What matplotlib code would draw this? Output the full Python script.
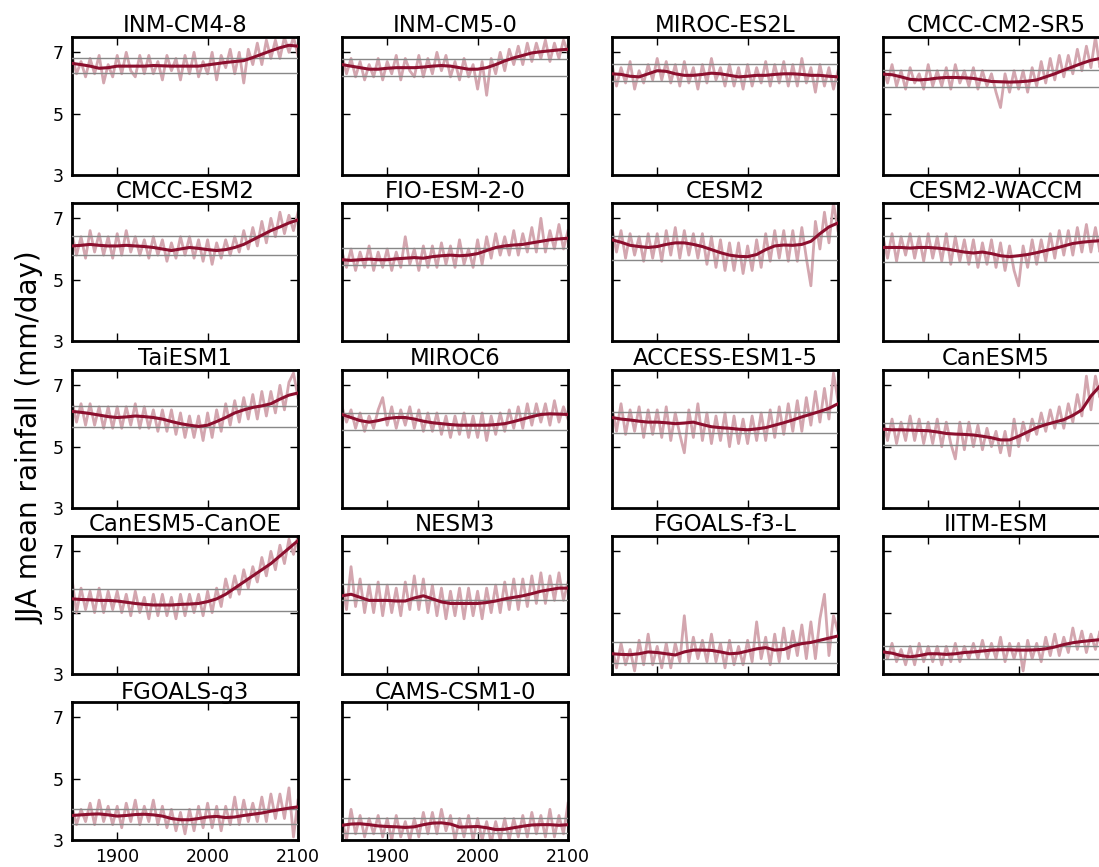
import numpy as np
import matplotlib
matplotlib.use("Agg")
import matplotlib.pyplot as plt

plt.rcParams['font.family'] = ['DejaVu Sans']

# ---------------- data ----------------
models = ["INM-CM4-8", "INM-CM5-0", "MIROC-ES2L", "CMCC-CM2-SR5",
          "CMCC-ESM2", "FIO-ESM-2-0", "CESM2", "CESM2-WACCM",
          "TaiESM1", "MIROC6", "ACCESS-ESM1-5", "CanESM5",
          "CanESM5-CanOE", "NESM3", "FGOALS-f3-L", "IITM-ESM",
          "FGOALS-g3", "CAMS-CSM1-0"]

raw_years = list(range(1850, 2101, 5))      # annual series sampled every 5 years
smooth_years = list(range(1850, 2101, 10))  # smoothed series every 10 years

ref_upper = [6.83, 6.78, 6.62, 6.42, 6.42, 6.03, 6.42, 6.42, 6.33, 6.10, 6.14, 5.78,
             5.78, 5.95, 4.05, 3.92, 4.02, 3.73]
ref_lower = [6.31, 6.22, 6.08, 5.87, 5.80, 5.48, 5.64, 5.57, 5.64, 5.53, 5.45, 5.06,
             5.05, 5.42, 3.37, 3.50, 3.51, 3.24]

raw_inm_cm4_8 = [6.9, 6.3, 6.7, 6.2, 6.8, 6.3, 6.9, 6.0, 6.6, 6.2,
                 6.9, 6.3, 7.0, 6.4, 6.2, 6.9, 6.3, 6.9, 6.3, 6.7,
                 6.1, 6.9, 6.4, 6.8, 6.1, 6.9, 6.3, 7.0, 6.2, 6.7,
                 6.3, 7.0, 6.1, 6.9, 6.5, 7.1, 6.3, 7.0, 6.0, 7.1,
                 6.6, 7.3, 6.6, 7.4, 6.8, 7.4, 6.8, 7.5, 7.0, 7.5, 6.9]
smooth_inm_cm4_8 = [6.64, 6.60, 6.55, 6.48, 6.50, 6.55, 6.55, 6.55, 6.55, 6.57, 6.56, 6.55, 6.55,
                    6.55, 6.55, 6.59, 6.63, 6.67, 6.70, 6.73, 6.83, 6.94, 7.05, 7.15, 7.23, 7.20]

raw_inm_cm5_0 = [6.9, 6.3, 6.8, 6.2, 6.7, 6.1, 6.6, 6.2, 6.8, 6.1,
                 6.7, 6.3, 6.9, 6.1, 6.8, 6.4, 6.2, 6.9, 6.2, 6.8,
                 6.3, 7.0, 6.4, 6.9, 6.2, 6.7, 6.1, 6.8, 6.2, 6.6,
                 5.8, 6.7, 5.6, 6.8, 6.3, 7.0, 6.4, 7.1, 6.6, 7.2,
                 6.6, 7.3, 6.7, 7.3, 6.8, 7.4, 6.7, 7.3, 6.8, 7.4, 7.0]
smooth_inm_cm5_0 = [6.60, 6.55, 6.50, 6.45, 6.45, 6.48, 6.50, 6.50, 6.50, 6.52, 6.55, 6.57, 6.55,
                    6.50, 6.45, 6.45, 6.50, 6.60, 6.72, 6.82, 6.90, 6.98, 7.02, 7.05, 7.08, 7.10]

raw_miroc_es2l = [6.6, 5.9, 6.5, 6.0, 6.7, 5.8, 6.4, 6.0, 6.6, 6.1,
                  6.8, 6.1, 6.7, 6.0, 6.6, 5.9, 6.7, 6.0, 6.5, 5.8,
                  6.6, 6.0, 6.8, 6.1, 6.5, 5.9, 6.6, 5.9, 6.5, 5.8,
                  6.6, 5.9, 6.5, 6.0, 6.7, 5.9, 6.6, 6.0, 6.7, 5.9,
                  6.6, 5.9, 6.8, 6.0, 6.5, 5.7, 6.6, 5.9, 6.5, 5.8, 6.4]
smooth_miroc_es2l = [6.30, 6.28, 6.22, 6.20, 6.30, 6.40, 6.38, 6.30, 6.25, 6.25, 6.28, 6.32, 6.30,
                     6.25, 6.20, 6.22, 6.25, 6.25, 6.28, 6.30, 6.30, 6.28, 6.25, 6.25, 6.22, 6.20]

raw_cmcc_cm2_sr5 = [6.5, 6.0, 6.6, 5.9, 6.4, 5.8, 6.5, 6.0, 6.3, 5.8,
                    6.6, 5.9, 6.4, 5.9, 6.5, 5.8, 6.6, 6.0, 6.4, 5.9,
                    6.5, 5.8, 6.4, 5.9, 6.3, 5.7, 5.2, 6.3, 5.7, 6.4,
                    5.8, 6.4, 5.7, 6.5, 5.9, 6.7, 6.0, 6.8, 6.1, 6.9,
                    6.2, 6.9, 6.3, 7.1, 6.4, 7.2, 6.5, 7.5, 6.5, 7.3, 6.7]
smooth_cmcc_cm2_sr5 = [6.29, 6.27, 6.20, 6.12, 6.10, 6.12, 6.16, 6.18, 6.18, 6.17, 6.15, 6.10, 6.05,
                       6.04, 6.03, 6.04, 6.06, 6.10, 6.20, 6.30, 6.42, 6.53, 6.64, 6.74, 6.80, 6.85]

raw_cmcc_esm2 = [6.5, 5.8, 6.4, 5.7, 6.6, 5.9, 6.5, 5.8, 6.4, 5.7,
                 6.5, 5.8, 6.6, 5.9, 6.4, 5.8, 6.3, 5.7, 6.4, 5.8,
                 6.3, 5.6, 6.2, 5.7, 6.4, 5.8, 6.4, 5.7, 6.3, 5.6,
                 6.3, 5.5, 6.2, 5.7, 6.3, 5.8, 6.4, 5.9, 6.6, 6.0,
                 6.7, 6.1, 6.9, 6.2, 7.0, 6.4, 7.2, 6.5, 7.1, 6.6, 7.2]
smooth_cmcc_esm2 = [6.10, 6.12, 6.15, 6.12, 6.10, 6.10, 6.12, 6.10, 6.08, 6.05, 6.00, 5.95, 6.00,
                    6.05, 6.02, 5.98, 5.95, 5.98, 6.05, 6.15, 6.30, 6.45, 6.60, 6.72, 6.85, 6.95]

raw_fio_esm_2_0 = [5.9, 5.4, 6.0, 5.3, 5.9, 5.4, 6.1, 5.3, 5.9, 5.4,
                   6.0, 5.3, 5.9, 5.4, 6.4, 5.5, 6.0, 5.3, 6.1, 5.4,
                   6.1, 5.4, 6.2, 5.5, 6.1, 5.4, 6.3, 5.5, 6.0, 5.4,
                   6.3, 5.5, 6.4, 5.7, 6.5, 5.8, 6.4, 5.8, 6.6, 5.8,
                   6.5, 5.9, 6.7, 5.9, 7.0, 5.9, 6.6, 6.0, 6.8, 6.0, 6.6]
smooth_fio_esm_2_0 = [5.65, 5.63, 5.65, 5.67, 5.65, 5.65, 5.68, 5.70, 5.72, 5.70, 5.75, 5.78, 5.80,
                      5.78, 5.80, 5.85, 5.95, 6.05, 6.10, 6.13, 6.15, 6.20, 6.25, 6.30, 6.33, 6.35]

raw_cesm2 = [6.7, 5.9, 6.6, 5.7, 6.5, 5.8, 6.4, 5.6, 6.5, 5.7,
             6.5, 5.6, 6.6, 5.8, 6.7, 5.7, 6.6, 5.8, 6.5, 5.7,
             6.5, 5.5, 6.4, 5.4, 6.3, 5.3, 6.2, 5.3, 6.2, 5.2,
             6.1, 5.3, 6.3, 5.4, 6.5, 5.6, 6.6, 5.7, 6.6, 5.6,
             6.6, 5.6, 6.7, 5.7, 4.8, 6.9, 6.0, 7.2, 6.2, 7.5, 6.6]
smooth_cesm2 = [6.30, 6.22, 6.12, 6.08, 6.05, 6.08, 6.15, 6.20, 6.20, 6.15, 6.08, 5.98, 5.88,
                5.80, 5.76, 5.75, 5.82, 5.98, 6.10, 6.13, 6.12, 6.15, 6.25, 6.50, 6.72, 6.85]

raw_cesm2_waccm = [6.4, 5.7, 6.5, 5.6, 6.4, 5.8, 6.5, 5.7, 6.4, 5.6,
                   6.5, 5.7, 6.4, 5.6, 6.5, 5.5, 6.4, 5.6, 6.3, 5.5,
                   6.3, 5.4, 6.2, 5.5, 6.3, 5.4, 6.2, 5.3, 6.1, 5.3,
                   4.8, 6.1, 5.4, 6.3, 5.5, 6.3, 5.6, 6.5, 5.7, 6.6,
                   5.8, 6.6, 5.8, 6.7, 5.9, 6.8, 5.9, 6.7, 5.9, 6.8, 6.2]
smooth_cesm2_waccm = [6.05, 6.05, 6.05, 6.03, 6.05, 6.05, 6.03, 6.00, 5.95, 5.90, 5.87, 5.90, 5.85,
                      5.78, 5.75, 5.78, 5.82, 5.88, 5.95, 6.02, 6.10, 6.18, 6.22, 6.25, 6.27, 6.27]

raw_taiesm1 = [6.5, 5.8, 6.4, 5.7, 6.4, 5.7, 6.3, 5.6, 6.3, 5.6,
               6.3, 5.6, 6.3, 5.7, 6.4, 5.6, 6.3, 5.6, 6.2, 5.5,
               6.2, 5.5, 6.2, 5.4, 6.1, 5.3, 6.0, 5.3, 6.0, 5.2,
               6.1, 5.3, 6.2, 5.5, 6.4, 5.7, 6.5, 5.8, 6.6, 5.9,
               6.7, 5.9, 6.8, 6.0, 6.8, 6.1, 7.0, 6.2, 7.1, 7.4, 6.6]
smooth_taiesm1 = [6.15, 6.12, 6.08, 6.03, 5.98, 5.95, 5.97, 6.00, 5.98, 5.95, 5.90, 5.82, 5.75,
                  5.70, 5.66, 5.70, 5.82, 5.95, 6.10, 6.20, 6.28, 6.33, 6.40, 6.55, 6.68, 6.75]

raw_miroc6 = [6.3, 5.8, 6.2, 5.6, 6.1, 5.5, 6.0, 5.6, 6.2, 6.6,
              5.7, 6.3, 5.6, 6.2, 5.7, 6.3, 5.6, 6.2, 5.5, 6.1,
              5.5, 6.1, 5.4, 6.0, 5.3, 6.0, 5.4, 6.1, 5.3, 6.0,
              5.3, 6.1, 5.2, 6.0, 5.4, 6.1, 5.5, 6.2, 5.6, 6.3,
              5.6, 6.4, 5.7, 6.4, 5.8, 6.4, 5.7, 6.5, 5.8, 6.3, 5.9]
smooth_miroc6 = [6.05, 5.95, 5.85, 5.80, 5.85, 5.92, 5.95, 5.95, 5.90, 5.83, 5.78, 5.75, 5.72,
                 5.70, 5.70, 5.70, 5.70, 5.72, 5.75, 5.82, 5.90, 5.98, 6.05, 6.07, 6.06, 6.05]

raw_access_esm1_5 = [6.3, 5.5, 6.4, 5.4, 6.2, 5.5, 6.3, 5.3, 6.2, 5.4,
                     6.2, 5.3, 6.3, 5.2, 6.1, 5.4, 4.8, 6.2, 5.3, 6.4,
                     5.2, 6.1, 5.1, 6.0, 5.2, 6.1, 5.0, 6.0, 5.1, 5.9,
                     5.1, 6.0, 5.2, 6.1, 5.2, 6.2, 5.3, 6.3, 5.4, 6.4,
                     5.5, 6.5, 5.5, 6.6, 5.7, 6.8, 5.8, 6.9, 5.9, 7.4, 6.5]
smooth_access_esm1_5 = [5.95, 5.90, 5.87, 5.83, 5.80, 5.80, 5.78, 5.75, 5.77, 5.80, 5.72, 5.65, 5.62,
                        5.60, 5.57, 5.55, 5.58, 5.62, 5.70, 5.78, 5.87, 5.97, 6.06, 6.15, 6.25, 6.40]

raw_canesm5 = [5.9, 5.2, 5.9, 5.1, 5.8, 5.2, 6.0, 5.2, 5.9, 5.1,
               5.8, 5.1, 5.9, 5.0, 5.8, 5.1, 4.6, 5.8, 4.9, 5.8,
               5.0, 5.7, 4.9, 5.6, 5.0, 5.5, 4.8, 5.5, 4.7, 5.9,
               5.0, 5.8, 5.2, 5.9, 5.4, 6.1, 5.5, 6.2, 5.6, 6.3,
               5.6, 6.4, 5.8, 6.7, 6.0, 7.3, 6.2, 7.3, 6.6, 7.3, 7.0]
smooth_canesm5 = [5.57, 5.55, 5.55, 5.54, 5.53, 5.52, 5.48, 5.43, 5.41, 5.40, 5.38, 5.34, 5.29,
                  5.22, 5.22, 5.34, 5.48, 5.62, 5.72, 5.80, 5.88, 6.02, 6.20, 6.65, 6.98, 7.20]

raw_canesm5_canoe = [6.1, 5.0, 5.8, 5.1, 5.7, 5.0, 5.8, 5.0, 5.7, 5.1,
                     5.7, 5.0, 5.6, 4.9, 5.7, 5.0, 5.5, 4.8, 5.6, 4.9,
                     5.6, 4.9, 5.5, 4.8, 5.6, 4.9, 5.6, 5.0, 5.6, 4.9,
                     5.7, 5.0, 5.8, 5.2, 6.1, 5.5, 6.2, 5.6, 6.4, 5.8,
                     6.5, 6.0, 6.8, 6.2, 7.0, 6.4, 7.2, 6.6, 7.4, 6.9, 7.5]
smooth_canesm5_canoe = [5.45, 5.43, 5.42, 5.40, 5.40, 5.38, 5.34, 5.30, 5.27, 5.25, 5.25, 5.25, 5.27,
                        5.28, 5.30, 5.36, 5.45, 5.60, 5.80, 6.00, 6.20, 6.40, 6.60, 6.85, 7.10, 7.35]

raw_nesm3 = [6.0, 5.1, 6.5, 5.2, 6.1, 5.0, 5.9, 5.0, 6.0, 4.9,
             5.9, 5.0, 5.8, 4.9, 6.0, 5.1, 6.2, 5.1, 6.1, 5.0,
             5.9, 4.9, 5.8, 4.8, 5.7, 4.9, 5.8, 4.8, 5.8, 4.9,
             5.7, 4.8, 5.8, 5.0, 5.9, 5.0, 6.0, 5.1, 6.1, 5.1,
             6.1, 5.2, 6.2, 5.3, 6.3, 5.3, 6.2, 5.4, 6.3, 5.4, 6.0]
smooth_nesm3 = [5.55, 5.60, 5.50, 5.40, 5.40, 5.40, 5.38, 5.38, 5.48, 5.55, 5.45, 5.35, 5.30,
                5.30, 5.30, 5.30, 5.33, 5.38, 5.45, 5.50, 5.55, 5.62, 5.70, 5.75, 5.80, 5.80]

raw_fgoals_f3_l = [3.9, 3.2, 4.0, 3.3, 3.8, 3.1, 4.1, 3.3, 4.3, 3.3,
                   3.9, 3.2, 4.0, 3.2, 4.0, 3.4, 4.9, 3.4, 4.2, 3.5,
                   4.1, 3.4, 4.3, 3.4, 4.0, 3.2, 4.1, 3.3, 3.9, 3.3,
                   4.1, 3.4, 4.7, 3.5, 4.2, 3.3, 4.3, 3.4, 4.5, 3.5,
                   4.4, 3.6, 4.6, 3.5, 4.7, 3.5, 4.8, 5.6, 3.6, 4.9, 4.4]
smooth_fgoals_f3_l = [3.66, 3.64, 3.63, 3.66, 3.72, 3.70, 3.66, 3.62, 3.72, 3.78, 3.78, 3.77, 3.72,
                      3.66, 3.68, 3.75, 3.82, 3.86, 3.78, 3.80, 3.92, 3.99, 4.03, 4.10, 4.17, 4.24]

raw_iitm_esm = [3.9, 3.5, 4.0, 3.4, 3.8, 3.3, 3.9, 3.3, 4.0, 3.4,
                3.9, 3.4, 3.9, 3.3, 3.9, 3.4, 4.0, 3.4, 3.9, 3.5,
                4.0, 3.5, 4.1, 3.5, 4.0, 3.5, 4.2, 3.4, 4.0, 3.5,
                4.0, 3.1, 4.1, 3.5, 4.0, 3.4, 4.2, 3.6, 4.3, 3.6,
                4.2, 3.7, 4.5, 3.8, 4.4, 3.7, 4.3, 3.8, 4.4, 3.9, 4.3]
smooth_iitm_esm = [3.72, 3.68, 3.60, 3.56, 3.60, 3.66, 3.66, 3.64, 3.66, 3.70, 3.72, 3.75, 3.78,
                   3.79, 3.79, 3.78, 3.78, 3.79, 3.82, 3.88, 3.96, 4.02, 4.06, 4.09, 4.12, 4.15]

raw_fgoals_g3 = [4.1, 3.5, 4.0, 3.6, 4.2, 3.5, 4.3, 3.6, 4.1, 3.5,
                 4.1, 3.4, 4.2, 3.6, 4.3, 3.5, 4.1, 3.6, 4.3, 3.5,
                 4.1, 3.4, 4.0, 3.3, 3.9, 3.2, 4.0, 3.3, 4.1, 3.4,
                 4.2, 3.4, 4.1, 3.3, 4.1, 3.5, 4.4, 3.5, 4.3, 3.6,
                 4.2, 3.6, 4.4, 3.6, 4.5, 3.7, 4.5, 3.7, 4.7, 3.1, 4.3]
smooth_fgoals_g3 = [3.80, 3.82, 3.84, 3.85, 3.82, 3.78, 3.80, 3.83, 3.84, 3.82, 3.78, 3.70, 3.66,
                    3.66, 3.70, 3.75, 3.77, 3.73, 3.75, 3.80, 3.84, 3.88, 3.94, 3.99, 4.04, 4.08]

raw_cams_csm1_0 = [3.7, 3.0, 4.0, 3.2, 3.8, 3.1, 3.7, 3.2, 3.8, 3.1,
                   3.7, 3.0, 3.8, 3.1, 3.6, 3.0, 3.7, 3.1, 3.9, 3.2,
                   3.9, 3.2, 4.0, 3.3, 3.8, 3.0, 3.7, 3.1, 3.8, 3.0,
                   3.7, 3.0, 3.6, 2.9, 3.6, 3.0, 3.7, 3.0, 3.7, 3.1,
                   3.8, 3.1, 3.9, 3.2, 3.8, 3.1, 4.0, 3.1, 3.8, 3.2, 4.2]
smooth_cams_csm1_0 = [3.48, 3.52, 3.53, 3.50, 3.46, 3.44, 3.43, 3.41, 3.43, 3.50, 3.55, 3.56, 3.52,
                      3.42, 3.43, 3.44, 3.40, 3.34, 3.35, 3.40, 3.45, 3.49, 3.50, 3.50, 3.48, 3.50]

raw_series = [raw_inm_cm4_8, raw_inm_cm5_0, raw_miroc_es2l, raw_cmcc_cm2_sr5,
              raw_cmcc_esm2, raw_fio_esm_2_0, raw_cesm2, raw_cesm2_waccm,
              raw_taiesm1, raw_miroc6, raw_access_esm1_5, raw_canesm5,
              raw_canesm5_canoe, raw_nesm3, raw_fgoals_f3_l, raw_iitm_esm,
              raw_fgoals_g3, raw_cams_csm1_0]
smooth_series = [smooth_inm_cm4_8, smooth_inm_cm5_0, smooth_miroc_es2l, smooth_cmcc_cm2_sr5,
                 smooth_cmcc_esm2, smooth_fio_esm_2_0, smooth_cesm2, smooth_cesm2_waccm,
                 smooth_taiesm1, smooth_miroc6, smooth_access_esm1_5, smooth_canesm5,
                 smooth_canesm5_canoe, smooth_nesm3, smooth_fgoals_f3_l, smooth_iitm_esm,
                 smooth_fgoals_g3, smooth_cams_csm1_0]

y_ticks = [3, 5, 7]
x_ticks = [1900, 2000, 2100]

# ---------------- figure ----------------
W, H = 1099, 867
fig = plt.figure(figsize=(W / 100, H / 100), dpi=100)

col_left = [72, 342, 612, 883]
row_top = [37, 203, 370, 536, 702]
ax_w, ax_h = 226, 138

RAW_COLOR = '#d3a6af'
SMOOTH_COLOR = '#8c0f2e'

for i, name in enumerate(models):
    r, c = divmod(i, 4)
    x0 = col_left[c] / W
    y0 = 1 - (row_top[r] + ax_h) / H
    ax = fig.add_axes([x0, y0, ax_w / W, ax_h / H])
    ax.plot(raw_years, raw_series[i], color=RAW_COLOR, lw=2.0, zorder=2)
    ax.axhline(ref_upper[i], color='#888888', lw=1.0, zorder=3)
    ax.axhline(ref_lower[i], color='#888888', lw=1.0, zorder=3)
    ax.plot(smooth_years, smooth_series[i], color=SMOOTH_COLOR, lw=2.2, zorder=4)
    ax.set_xlim(1850, 2100)
    ax.set_ylim(3, 7.5)
    ax.set_xticks(x_ticks)
    ax.set_yticks(y_ticks)
    ax.tick_params(direction='in', length=6, width=1, top=True, right=True,
                   labelsize=12.5, pad=6)
    for s in ax.spines.values():
        s.set_linewidth(2)
    if c != 0:
        ax.set_yticklabels([])
    if r != 4:
        ax.set_xticklabels([])
    ax.set_title(name, fontsize=16.5, pad=2)

fig.text(30 / W, 1 - 438 / H, 'JJA mean rainfall (mm/day)', rotation=90,
         ha='center', va='center', fontsize=20)

fig.savefig('out.png', dpi=100)
